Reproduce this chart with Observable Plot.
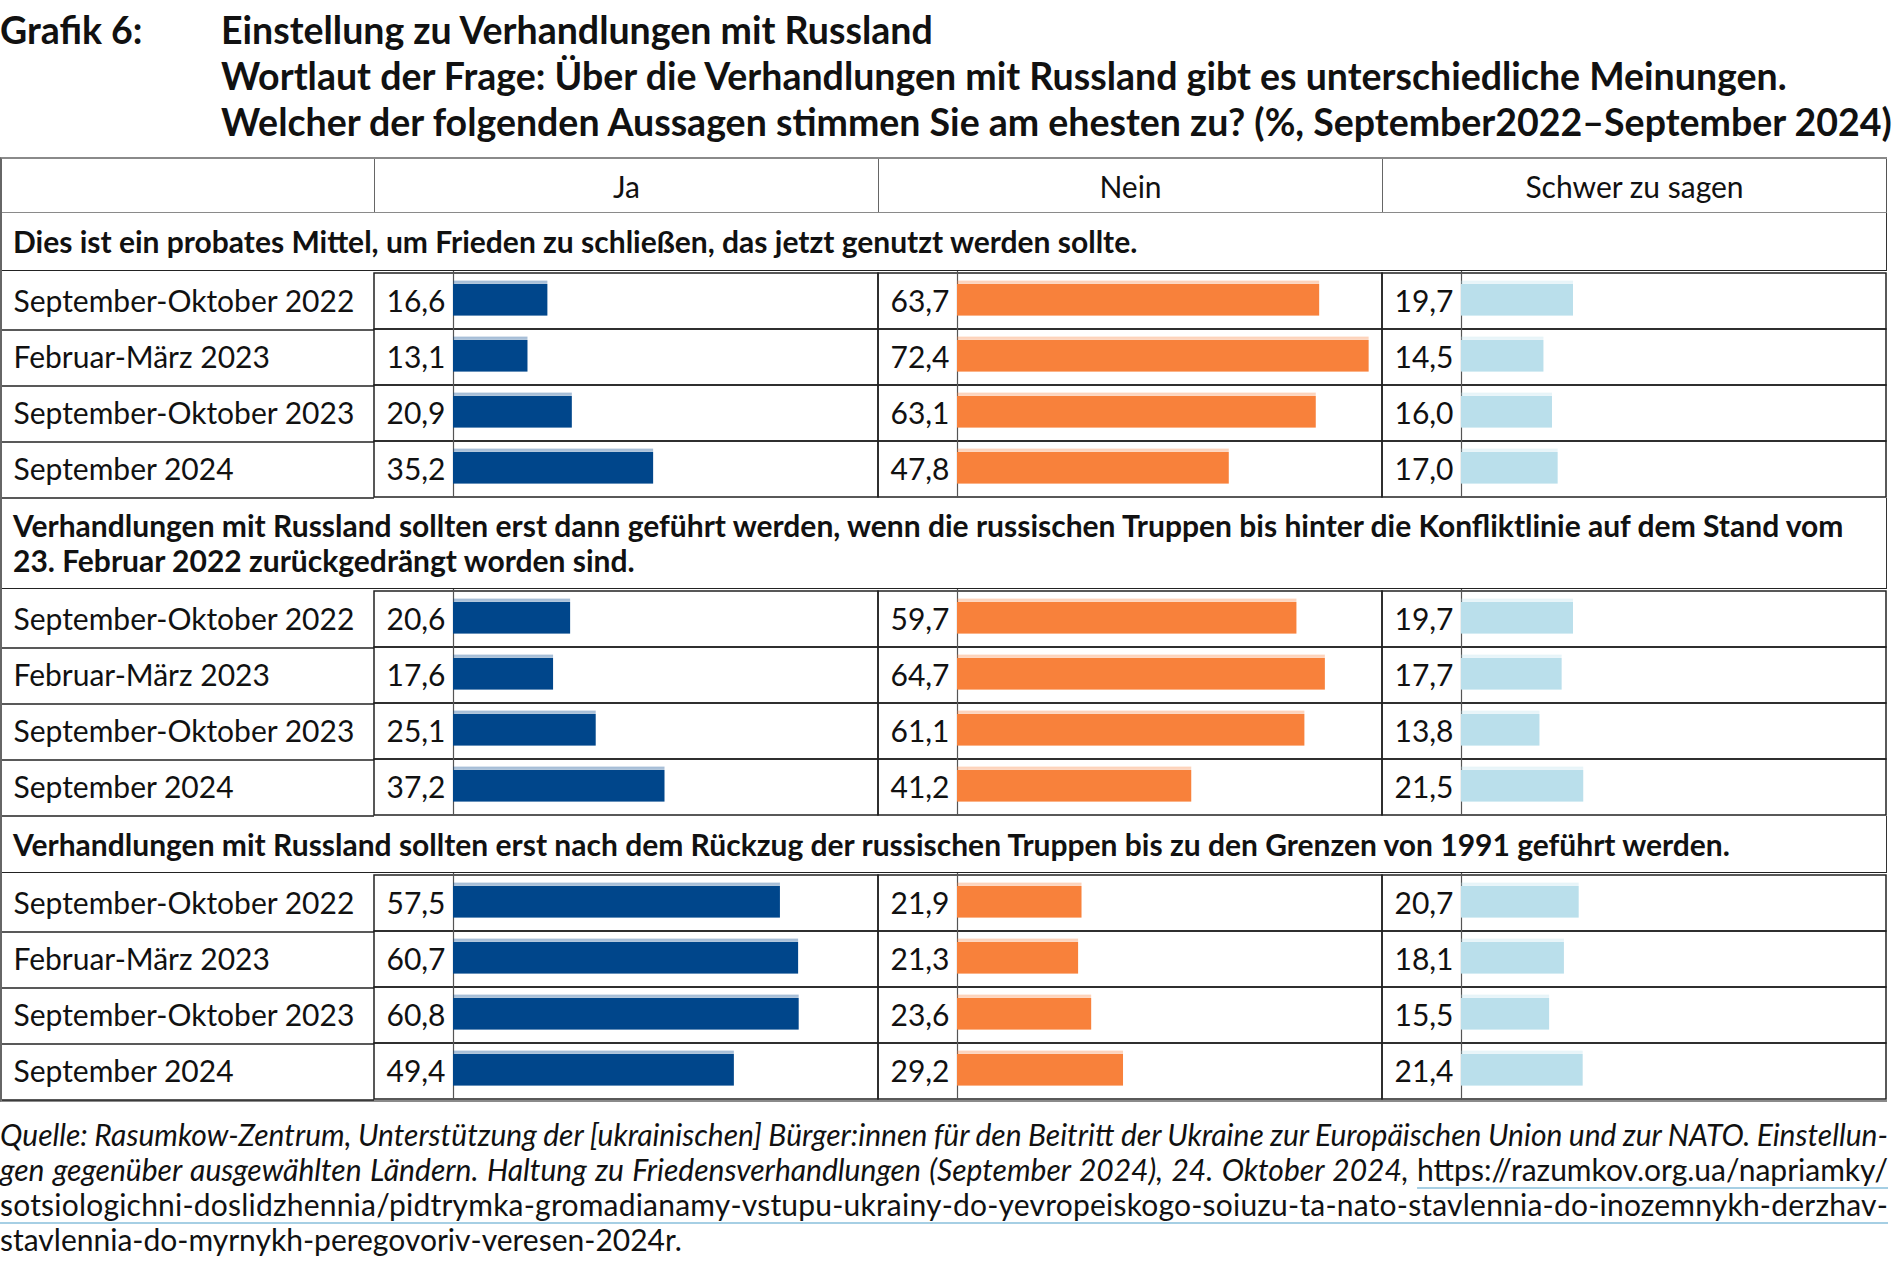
<!DOCTYPE html>
<html><head><meta charset="utf-8">
<script src="https://cdn.jsdelivr.net/npm/d3@7"></script>
<script src="https://cdn.jsdelivr.net/npm/@observablehq/plot@0.6"></script>
<style>
html,body{margin:0;padding:0;background:#fff;}
body{width:1892px;font-family:Lato,"Noto Sans",sans-serif;color:#1a1a1a;}
#title{position:relative;height:157px;font-weight:700;font-size:37.5px;line-height:46px;color:#111;}
#title .lab{position:absolute;left:0;top:7px;}
#title .lines{position:absolute;left:221px;top:7px;white-space:nowrap;}
#table{width:1887px;border-top:2px solid #8a8a8a;border-bottom:2px solid #8a8a8a;border-left:2px solid #666;box-sizing:border-box;}
.hdr{display:flex;height:54px;border-bottom:1.5px solid #8a8a8a;border-right:1.5px solid #555;box-sizing:border-box;}
.hdr div{box-sizing:border-box;display:flex;align-items:center;justify-content:center;font-size:30px;color:#111;}
.hdr div.g{border-left:1px solid #666;}
.sec{display:flex;align-items:center;box-sizing:border-box;padding-left:11px;font-weight:700;font-size:30px;line-height:35px;color:#111;border-right:1.5px solid #333;border-bottom:1.5px solid #222;}
.plotwrap svg{display:block;}
#caption{margin-top:15px;font-size:30px;line-height:35px;width:1888px;color:#111;}
#caption .ln{white-space:nowrap;}
#caption i{font-style:italic;}
.url{text-decoration:underline;text-decoration-color:#a6cfe4;text-decoration-thickness:1.5px;text-underline-offset:6px;}
</style>
</head><body>
<div id="title"></div>
<div id="table"></div>
<div id="caption"></div>
<script>
// ---- data ----
const figLabel = "Grafik 6:";
const titleLines = [
  "Einstellung zu Verhandlungen mit Russland",
  "Wortlaut der Frage: Über die Verhandlungen mit Russland gibt es unterschiedliche Meinungen.",
  "Welcher der folgenden Aussagen stimmen Sie am ehesten zu? (%, September2022–September 2024)"
];
const answers = ["Ja", "Nein", "Schwer zu sagen"];
const periods = ["September-Oktober 2022", "Februar-März 2023", "September-Oktober 2023", "September 2024"];
const sectionTitles = [
  ["Dies ist ein probates Mittel, um Frieden zu schließen, das jetzt genutzt werden sollte."],
  ["Verhandlungen mit Russland sollten erst dann geführt werden, wenn die russischen Truppen bis hinter die Konfliktlinie auf dem Stand vom",
   "23. Februar 2022 zurückgedrängt worden sind."],
  ["Verhandlungen mit Russland sollten erst nach dem Rückzug der russischen Truppen bis zu den Grenzen von 1991 geführt werden."]
];
const s1Ja = [16.6, 13.1, 20.9, 35.2];
const s1Nein = [63.7, 72.4, 63.1, 47.8];
const s1Schwer = [19.7, 14.5, 16.0, 17.0];
const s2Ja = [20.6, 17.6, 25.1, 37.2];
const s2Nein = [59.7, 64.7, 61.1, 41.2];
const s2Schwer = [19.7, 17.7, 13.8, 21.5];
const s3Ja = [57.5, 60.7, 60.8, 49.4];
const s3Nein = [21.9, 21.3, 23.6, 29.2];
const s3Schwer = [20.7, 18.1, 15.5, 21.4];
const captionItalic1 = "Quelle: Rasumkow-Zentrum, Unterstützung der [ukrainischen] Bürger:innen für den Beitritt der Ukraine zur Europäischen Union und zur NATO. Einstellun-";
const captionItalic2 = "gen gegenüber ausgewählten Ländern. Haltung zu Friedensverhandlungen (September 2024), 24. Oktober 2024, ";
const urlParts = ["https://razumkov.org.ua/napriamky/",
  "sotsiologichni-doslidzhennia/pidtrymka-gromadianamy-vstupu-ukrainy-do-yevropeiskogo-soiuzu-ta-nato-stavlennia-do-inozemnykh-derzhav-",
  "stavlennia-do-myrnykh-peregovoriv-veresen-2024r"];

// ---- styles ----
const barColors = ["#00468b", "#f8813b", "#badfeb"];
const sectionHeights = [58, 91, 57];

const sectionValues = [
  [s1Ja, s1Nein, s1Schwer],
  [s2Ja, s2Nein, s2Schwer],
  [s3Ja, s3Nein, s3Schwer]
];
const fmt = v => v.toFixed(1).replace(".", ",");

// title
const T = document.getElementById("title");
T.innerHTML = `<div class="lab">${figLabel}</div><div class="lines">${titleLines.join("<br>")}</div>`;

// table
const tbl = document.getElementById("table");
const plotW = 1885, mL = 372, mR = 1, plotH = 227;
const facetW = (plotW - mL - mR) / 3;
const hdr = document.createElement("div");
hdr.className = "hdr";
hdr.innerHTML = `<div style="width:${mL}px"></div>` + answers.map(a => `<div class="g" style="width:${facetW}px">${a}</div>`).join("");
tbl.appendChild(hdr);

function sectionPlot(rows) {
  const band = plotH / periods.length;
  return Plot.plot({
    width: plotW, height: plotH,
    marginLeft: mL, marginRight: mR, marginTop: 0, marginBottom: 0,
    style: {fontFamily: "Lato, sans-serif", fontSize: "30px", color: "#111", background: "transparent", overflow: "visible"},
    fx: {domain: answers, padding: 0, axis: null},
    x: {domain: [0, 74.75], insetLeft: 79, axis: null},
    y: {domain: periods, padding: 0},
    color: {domain: answers, range: barColors},
    marks: [
      Plot.axisY({tickSize: mL, tickFormat: () => "", dy: band / 2, stroke: "#222", strokeWidth: 1.5, label: null}),
      Plot.axisY({tickSize: 0, tickPadding: 0, textAnchor: "start", dx: -(mL - 11), dy: 1, fontSize: 30, fill: "#111", label: null}),
      Plot.cell(periods, {y: d => d, fill: "none", stroke: "#222", strokeWidth: 1.5}),
      Plot.ruleX([0], {stroke: "#555", strokeWidth: 1.2}),
      Plot.barX(rows, {fx: "answer", y: "period", x: "value", fill: "answer", fillOpacity: 0.35, insetTop: 7.6, insetBottom: band - 10.7}),
      Plot.barX(rows, {fx: "answer", y: "period", x: "value", fill: "answer", insetTop: 10.7, insetBottom: 13.4}),
      Plot.text(rows, {fx: "answer", y: "period", x: 0, text: d => fmt(d.value), dx: -67, dy: 1, textAnchor: "start", fontSize: 30, fill: "#111"})
    ]
  });
}

sectionTitles.forEach((lines, si) => {
  const sec = document.createElement("div");
  sec.className = "sec";
  sec.style.height = sectionHeights[si] + "px";
  sec.innerHTML = `<div>${lines.join("<br>")}</div>`;
  tbl.appendChild(sec);
  const rows = periods.flatMap((p, i) => answers.map((a, ai) => ({period: p, answer: a, value: sectionValues[si][ai][i]})));
  const wrap = document.createElement("div");
  wrap.className = "plotwrap";
  wrap.appendChild(sectionPlot(rows));
  tbl.appendChild(wrap);
});

// caption
const C = document.getElementById("caption");
C.innerHTML =
  `<div class="ln"><span class="fit"><i>${captionItalic1}</i></span></div>` +
  `<div class="ln"><span class="fit"><i>${captionItalic2}</i><span class="url">${urlParts[0]}</span></span></div>` +
  `<div class="ln"><span class="fit url">${urlParts[1]}</span></div>` +
  `<div class="ln"><span class="url">${urlParts[2]}</span>.</div>`;

function fitAll() {
  const target = 1888;
  C.querySelectorAll(".fit").forEach(el => {
    el.style.wordSpacing = ""; el.style.letterSpacing = "";
    el.style.display = "inline-block";
    const w = el.getBoundingClientRect().width;
    const txt = el.textContent;
    const spaces = (txt.match(/ /g) || []).length;
    if (spaces > 0) el.style.wordSpacing = ((target - w) / spaces) + "px";
    else el.style.letterSpacing = ((target - w) / txt.length) + "px";
  });
}
fitAll();
if (document.fonts && document.fonts.ready) document.fonts.ready.then(fitAll);
</script>
</body></html>
